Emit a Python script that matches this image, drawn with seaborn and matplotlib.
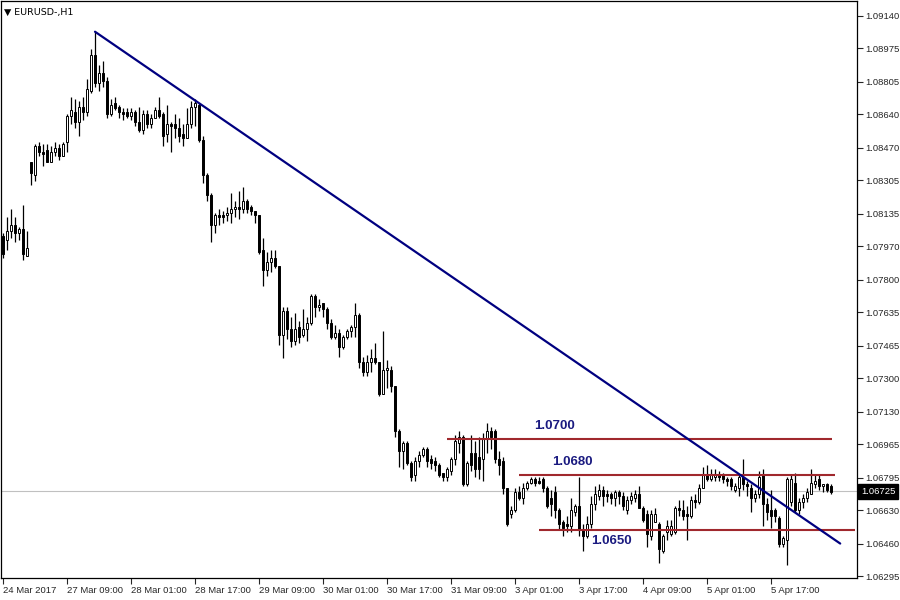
import matplotlib
matplotlib.use("Agg")
import matplotlib.pyplot as plt
import seaborn as sns
import numpy as np

# hourly OHLC, one row per bar
ohlc = [
    (1.0802, 1.0804, 1.0791, 1.0793), (1.0800, 1.0812, 1.0795, 1.0805), (1.0805, 1.0816, 1.0801, 1.0808),
    (1.0808, 1.0812, 1.0799, 1.0804), (1.0804, 1.0807, 1.0800, 1.0806), (1.0806, 1.0818, 1.0790, 1.0793),
    (1.0792, 1.0805, 1.0792, 1.0796), (1.0840, 1.0840, 1.0828, 1.0834), (1.0833, 1.0849, 1.0830, 1.0848),
    (1.0848, 1.0850, 1.0843, 1.0845), (1.0845, 1.0849, 1.0838, 1.0844), (1.0846, 1.0849, 1.0840, 1.0840),
    (1.0840, 1.0848, 1.0840, 1.0845), (1.0845, 1.0850, 1.0843, 1.0847), (1.0847, 1.0849, 1.0841, 1.0843),
    (1.0843, 1.0850, 1.0843, 1.0849), (1.0850, 1.0864, 1.0845, 1.0863), (1.0863, 1.0873, 1.0859, 1.0866),
    (1.0865, 1.0872, 1.0857, 1.0860), (1.0860, 1.0871, 1.0853, 1.0868), (1.0868, 1.0873, 1.0861, 1.0865),
    (1.0865, 1.0882, 1.0863, 1.0877), (1.0876, 1.0897, 1.0875, 1.0894), (1.0894, 1.0906, 1.0878, 1.0880),
    (1.0880, 1.0889, 1.0876, 1.0885), (1.0885, 1.0891, 1.0878, 1.0881), (1.0881, 1.0883, 1.0862, 1.0864),
    (1.0864, 1.0872, 1.0863, 1.0869), (1.0870, 1.0873, 1.0866, 1.0867), (1.0868, 1.0869, 1.0862, 1.0865),
    (1.0865, 1.0867, 1.0861, 1.0864), (1.0865, 1.0867, 1.0862, 1.0863), (1.0863, 1.0867, 1.0861, 1.0865),
    (1.0865, 1.0866, 1.0858, 1.0860), (1.0860, 1.0868, 1.0855, 1.0856), (1.0856, 1.0866, 1.0854, 1.0864),
    (1.0864, 1.0866, 1.0857, 1.0859), (1.0859, 1.0864, 1.0857, 1.0862), (1.0862, 1.0868, 1.0862, 1.0866),
    (1.0866, 1.0873, 1.0862, 1.0863), (1.0864, 1.0865, 1.0848, 1.0853), (1.0854, 1.0869, 1.0850, 1.0859),
    (1.0859, 1.0860, 1.0845, 1.0858), (1.0859, 1.0864, 1.0852, 1.0857), (1.0857, 1.0862, 1.0850, 1.0853),
    (1.0854, 1.0859, 1.0848, 1.0852), (1.0852, 1.0867, 1.0852, 1.0859), (1.0859, 1.0871, 1.0857, 1.0868),
    (1.0868, 1.0872, 1.0858, 1.0870), (1.0869, 1.0870, 1.0850, 1.0851), (1.0851, 1.0853, 1.0829, 1.0833),
    (1.0833, 1.0834, 1.0820, 1.0823), (1.0823, 1.0824, 1.0799, 1.0808), (1.0808, 1.0814, 1.0804, 1.0813),
    (1.0813, 1.0816, 1.0808, 1.0812), (1.0813, 1.0815, 1.0809, 1.0812), (1.0813, 1.0817, 1.0810, 1.0814),
    (1.0814, 1.0824, 1.0809, 1.0816), (1.0816, 1.0820, 1.0812, 1.0817), (1.0817, 1.0825, 1.0811, 1.0816),
    (1.0816, 1.0827, 1.0814, 1.0820), (1.0820, 1.0821, 1.0814, 1.0816), (1.0817, 1.0818, 1.0813, 1.0815),
    (1.0815, 1.0815, 1.0809, 1.0813), (1.0813, 1.0813, 1.0793, 1.0794), (1.0795, 1.0801, 1.0777, 1.0785),
    (1.0785, 1.0794, 1.0782, 1.0789), (1.0789, 1.0795, 1.0784, 1.0791), (1.0791, 1.0795, 1.0786, 1.0787),
    (1.0787, 1.0787, 1.0747, 1.0752), (1.0752, 1.0766, 1.0740, 1.0764), (1.0764, 1.0766, 1.0750, 1.0755),
    (1.0755, 1.0761, 1.0746, 1.0749), (1.0749, 1.0763, 1.0747, 1.0755), (1.0756, 1.0759, 1.0748, 1.0751),
    (1.0752, 1.0765, 1.0751, 1.0755), (1.0755, 1.0761, 1.0749, 1.0758), (1.0758, 1.0773, 1.0757, 1.0772),
    (1.0772, 1.0773, 1.0761, 1.0766), (1.0766, 1.0770, 1.0764, 1.0767), (1.0768, 1.0768, 1.0761, 1.0765),
    (1.0765, 1.0766, 1.0755, 1.0758), (1.0758, 1.0760, 1.0750, 1.0751), (1.0751, 1.0757, 1.0750, 1.0753),
    (1.0753, 1.0755, 1.0741, 1.0746), (1.0746, 1.0752, 1.0745, 1.0751), (1.0751, 1.0755, 1.0750, 1.0754),
    (1.0754, 1.0757, 1.0751, 1.0756), (1.0756, 1.0768, 1.0751, 1.0762), (1.0762, 1.0763, 1.0735, 1.0738),
    (1.0738, 1.0741, 1.0731, 1.0733), (1.0733, 1.0742, 1.0731, 1.0738), (1.0738, 1.0745, 1.0733, 1.0740),
    (1.0740, 1.0748, 1.0737, 1.0738), (1.0738, 1.0738, 1.0721, 1.0722), (1.0722, 1.0754, 1.0722, 1.0734),
    (1.0734, 1.0739, 1.0725, 1.0735), (1.0734, 1.0736, 1.0723, 1.0726), (1.0726, 1.0726, 1.0700, 1.0703),
    (1.0703, 1.0704, 1.0685, 1.0693), (1.0693, 1.0698, 1.0684, 1.0697), (1.0697, 1.0698, 1.0686, 1.0687),
    (1.0687, 1.0688, 1.0678, 1.0680), (1.0681, 1.0690, 1.0678, 1.0688), (1.0688, 1.0693, 1.0685, 1.0691),
    (1.0691, 1.0695, 1.0690, 1.0694), (1.0694, 1.0695, 1.0685, 1.0688), (1.0689, 1.0691, 1.0684, 1.0687),
    (1.0688, 1.0690, 1.0683, 1.0686), (1.0686, 1.0687, 1.0680, 1.0681), (1.0682, 1.0682, 1.0678, 1.0680),
    (1.0680, 1.0685, 1.0678, 1.0684), (1.0683, 1.0690, 1.0681, 1.0689), (1.0689, 1.0701, 1.0686, 1.0698),
    (1.0697, 1.0703, 1.0692, 1.0700), (1.0700, 1.0701, 1.0675, 1.0676), (1.0676, 1.0688, 1.0675, 1.0687),
    (1.0692, 1.0701, 1.0683, 1.0686), (1.0692, 1.0698, 1.0680, 1.0684), (1.0690, 1.0700, 1.0679, 1.0684),
    (1.0689, 1.0702, 1.0678, 1.0699), (1.0699, 1.0707, 1.0692, 1.0703), (1.0703, 1.0705, 1.0694, 1.0700),
    (1.0703, 1.0704, 1.0687, 1.0689), (1.0689, 1.0693, 1.0681, 1.0686), (1.0688, 1.0690, 1.0671, 1.0674),
    (1.0674, 1.0674, 1.0655, 1.0656), (1.0661, 1.0665, 1.0659, 1.0663), (1.0663, 1.0674, 1.0662, 1.0672),
    (1.0672, 1.0675, 1.0668, 1.0669), (1.0669, 1.0677, 1.0666, 1.0674), (1.0674, 1.0678, 1.0673, 1.0677),
    (1.0677, 1.0680, 1.0676, 1.0679), (1.0679, 1.0680, 1.0675, 1.0677), (1.0678, 1.0680, 1.0676, 1.0677),
    (1.0679, 1.0680, 1.0672, 1.0674), (1.0674, 1.0675, 1.0664, 1.0665), (1.0669, 1.0673, 1.0660, 1.0666),
    (1.0672, 1.0675, 1.0659, 1.0663), (1.0663, 1.0664, 1.0653, 1.0656), (1.0657, 1.0658, 1.0650, 1.0654),
    (1.0656, 1.0660, 1.0652, 1.0655), (1.0655, 1.0669, 1.0652, 1.0663), (1.0662, 1.0666, 1.0660, 1.0665),
    (1.0665, 1.0680, 1.0650, 1.0653), (1.0653, 1.0656, 1.0642, 1.0650), (1.0650, 1.0660, 1.0649, 1.0656),
    (1.0656, 1.0670, 1.0654, 1.0666), (1.0666, 1.0675, 1.0663, 1.0671), (1.0670, 1.0676, 1.0668, 1.0673),
    (1.0673, 1.0675, 1.0665, 1.0670), (1.0671, 1.0673, 1.0667, 1.0670), (1.0671, 1.0672, 1.0666, 1.0669),
    (1.0669, 1.0673, 1.0665, 1.0672), (1.0672, 1.0673, 1.0666, 1.0670), (1.0670, 1.0672, 1.0663, 1.0665),
    (1.0663, 1.0670, 1.0661, 1.0668), (1.0668, 1.0672, 1.0666, 1.0670), (1.0669, 1.0673, 1.0667, 1.0671),
    (1.0671, 1.0675, 1.0664, 1.0664), (1.0664, 1.0665, 1.0657, 1.0658), (1.0661, 1.0663, 1.0644, 1.0651),
    (1.0650, 1.0663, 1.0648, 1.0661), (1.0657, 1.0664, 1.0657, 1.0661), (1.0656, 1.0657, 1.0636, 1.0643),
    (1.0642, 1.0651, 1.0641, 1.0650), (1.0652, 1.0658, 1.0648, 1.0655), (1.0651, 1.0658, 1.0650, 1.0655),
    (1.0652, 1.0665, 1.0651, 1.0664), (1.0664, 1.0668, 1.0660, 1.0663), (1.0663, 1.0668, 1.0658, 1.0660),
    (1.0661, 1.0665, 1.0648, 1.0660), (1.0660, 1.0670, 1.0659, 1.0668), (1.0668, 1.0671, 1.0664, 1.0667),
    (1.0667, 1.0676, 1.0666, 1.0674), (1.0674, 1.0685, 1.0674, 1.0681), (1.0681, 1.0686, 1.0678, 1.0679),
    (1.0679, 1.0684, 1.0678, 1.0681), (1.0680, 1.0684, 1.0678, 1.0681), (1.0681, 1.0683, 1.0678, 1.0680),
    (1.0681, 1.0682, 1.0677, 1.0679), (1.0679, 1.0680, 1.0675, 1.0678), (1.0679, 1.0680, 1.0673, 1.0675),
    (1.0673, 1.0677, 1.0672, 1.0675), (1.0674, 1.0681, 1.0670, 1.0680), (1.0680, 1.0689, 1.0673, 1.0676),
    (1.0676, 1.0678, 1.0670, 1.0675), (1.0674, 1.0676, 1.0662, 1.0669), (1.0669, 1.0673, 1.0667, 1.0671),
    (1.0671, 1.0683, 1.0669, 1.0680), (1.0681, 1.0684, 1.0655, 1.0666), (1.0666, 1.0669, 1.0658, 1.0662),
    (1.0663, 1.0673, 1.0654, 1.0660), (1.0663, 1.0664, 1.0657, 1.0660), (1.0659, 1.0660, 1.0644, 1.0646),
    (1.0646, 1.0650, 1.0644, 1.0649), (1.0648, 1.0680, 1.0635, 1.0679), (1.0667, 1.0681, 1.0665, 1.0679),
    (1.0677, 1.0682, 1.0662, 1.0663), (1.0663, 1.0669, 1.0661, 1.0667), (1.0667, 1.0671, 1.0664, 1.0669),
    (1.0669, 1.0674, 1.0667, 1.0672), (1.0671, 1.0684, 1.0671, 1.0677), (1.0676, 1.0681, 1.0674, 1.0678),
    (1.0679, 1.0681, 1.0673, 1.0675), (1.0675, 1.0676, 1.0672, 1.0676), (1.0676, 1.0677, 1.0672, 1.0673),
    (1.0675, 1.0676, 1.0671, 1.0672),
]

time_ticks = [0, 16, 32, 48, 64, 80, 96, 112, 128, 144, 160, 176, 192]
time_labels = ['24 Mar 2017', '27 Mar 09:00', '28 Mar 01:00', '28 Mar 17:00', '29 Mar 09:00',
               '30 Mar 01:00', '30 Mar 17:00', '31 Mar 09:00', '3 Apr 01:00', '3 Apr 17:00',
               '4 Apr 09:00', '5 Apr 01:00', '5 Apr 17:00']
price_ticks = [1.09140, 1.08975, 1.08805, 1.08640, 1.08470, 1.08305, 1.08135, 1.07970, 1.07800,
               1.07635, 1.07465, 1.07300, 1.07130, 1.06965, 1.06795, 1.06630, 1.06460, 1.06295]

# trendline: (bar, price) at both ends
trend_bars = [23, 209.3]
trend_prices = [1.0906, 1.0646]

# horizontal levels: price, first bar, last bar, label text, label bar, label price
level_prices = [1.0699, 1.0681, 1.0653]
level_start = [111, 129, 134]
level_end = [207.3, 208, 213]
level_texts = ['1.0700', '1.0680', '1.0650']
level_text_bar = [138, 142.3, 152]
level_text_price = [1.07055, 1.06875, 1.06475]

last_price = 1.06725
symbol = 'EURUSD-,H1'

df_o = np.array([r[0] for r in ohlc])
df_h = np.array([r[1] for r in ohlc])
df_l = np.array([r[2] for r in ohlc])
df_c = np.array([r[3] for r in ohlc])
idx = np.arange(len(ohlc))

sns.set_style("white")
plt.rcParams['font.family'] = ['Liberation Sans', 'DejaVu Sans']

fig = plt.figure(figsize=(9, 6), dpi=100)
ax = fig.add_axes([1 / 900, 22 / 600, 856 / 900, 577 / 600])

# current price line
ax.axhline(last_price, color='#c0c0c0', lw=0.8, zorder=1)

# candles
ax.vlines(idx, df_l, df_h, color='black', lw=0.9, zorder=2)
up = df_c >= df_o
body_low = np.minimum(df_o, df_c)
body_h = np.maximum(np.abs(df_c - df_o), 0.00003)
ax.bar(idx, body_h, bottom=body_low, width=0.55,
       color=np.where(up, 'white', 'black'), edgecolor='black', linewidth=0.7, zorder=3)

# support / resistance levels
for p, s, e in zip(level_prices, level_start, level_end):
    ax.hlines(p, s, e, color='#a0282d', lw=1.5, zorder=4)
for t, b, p in zip(level_texts, level_text_bar, level_text_price):
    ax.text(b, p, t, color='#1a1a80', fontsize=9.5, fontweight='bold',
            ha='center', va='center', zorder=5)

# trendline
ax.plot(trend_bars, trend_prices, color='#000080', lw=1.6, zorder=5)

ax.set_xlim(-0.5, 213.5)
ax.set_ylim(1.06285, 1.09216)

ax.yaxis.tick_right()
ax.set_yticks(price_ticks)
ax.set_yticklabels([f'{v:.5f}' for v in price_ticks])
ax.set_xticks(time_ticks)
ax.set_xticklabels(time_labels, ha='left')
ax.tick_params(axis='y', direction='out', length=4, width=0.8, pad=2, labelsize=6.8, right=True)
ax.tick_params(axis='x', direction='out', length=4, width=0.8, pad=2, labelsize=6.8, bottom=True)
for sp in ax.spines.values():
    sp.set_color('black')
    sp.set_linewidth(0.9)

# last price box on the price scale
ax.annotate(f'{last_price:.5f}', xy=(1.0, last_price), xycoords=('axes fraction', 'data'),
            xytext=(3, 0), textcoords='offset points', ha='left', va='center',
            fontsize=6.8, color='white',
            bbox=dict(boxstyle='square,pad=0.3', fc='black', ec='black'))

ax.text(0.004, 0.988, '\u25bc ' + symbol, transform=ax.transAxes, fontsize=6.8,
        ha='left', va='top', color='black', family=['DejaVu Sans'])

fig.savefig('out.png', dpi=100)
